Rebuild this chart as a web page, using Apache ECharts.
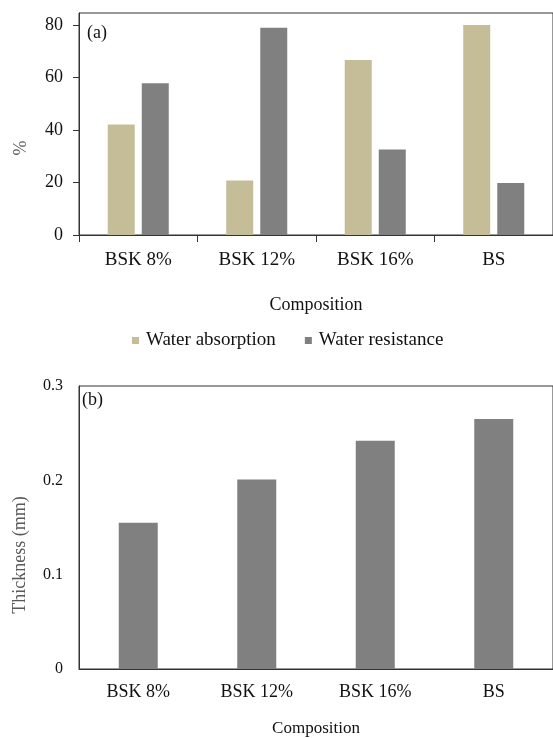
<!DOCTYPE html>
<html>
<head>
<meta charset="utf-8">
<script src="https://cdn.jsdelivr.net/npm/echarts@6/dist/echarts.min.js"></script>
<style>html,body{margin:0;padding:0;background:#fff}#c{width:553px;height:738px}</style>
</head>
<body>
<div id="c"></div>
<script>
const categories = ['BSK 8%', 'BSK 12%', 'BSK 16%', 'BS'];
const waterAbsorption = [42.2, 20.8, 66.8, 80.1];
const waterResistance = [57.9, 79.1, 32.6, 19.8];
const thickness = [0.155, 0.201, 0.242, 0.265];
const ticksA = [0, 20, 40, 60, 80];
const seriesNames = ['Water absorption', 'Water resistance'];

const FONT = 'Liberation Serif';
const chart = echarts.init(document.getElementById('c'), null, {renderer: 'canvas'});
chart.setOption({
  animation: false,
  backgroundColor: '#fff',
  textStyle: {fontFamily: FONT},
  grid: [
    {left: 79, top: 13, width: 478.4, height: 222, show: true, borderColor: '#333', borderWidth: 1, backgroundColor: 'transparent'},
    {left: 79, top: 386, width: 478.4, height: 283, show: true, borderColor: '#333', borderWidth: 1, backgroundColor: 'transparent'}
  ],
  legend: {
    data: seriesNames,
    left: 132, top: 331, padding: 0,
    icon: 'rect', itemWidth: 7, itemHeight: 7, itemGap: 29,
    textStyle: {fontFamily: FONT, fontSize: 19, color: '#111', lineHeight: 19, padding: [0, 0, 0, 2]}
  },
  graphic: [
    {type: 'text', left: 87, top: 24, style: {text: '(a)', font: '18px "Liberation Serif"', fill: '#111'}},
    {type: 'text', left: 82, top: 391, style: {text: '(b)', font: '18px "Liberation Serif"', fill: '#111'}}
  ],
  xAxis: [
    {type: 'category', gridIndex: 0, data: categories,
     axisLine: {lineStyle: {color: '#333'}},
     axisTick: {show: true, length: 7, lineStyle: {color: '#333'}},
     axisLabel: {fontFamily: FONT, fontSize: 19, color: '#111', margin: 16},
     name: 'Composition', nameLocation: 'middle', nameGap: 61,
     nameTextStyle: {fontFamily: FONT, fontSize: 18, color: '#111'}},
    {type: 'category', gridIndex: 1, data: categories,
     axisLine: {lineStyle: {color: '#333'}},
     axisTick: {show: false},
     axisLabel: {fontFamily: FONT, fontSize: 18, color: '#111', margin: 14},
     name: 'Composition', nameLocation: 'middle', nameGap: 51,
     nameTextStyle: {fontFamily: FONT, fontSize: 17, color: '#111'}}
  ],
  yAxis: [
    {type: 'value', gridIndex: 0, min: 0, max: 84.7,
     axisLine: {show: true, lineStyle: {color: '#333'}},
     axisTick: {show: true, length: 6, customValues: ticksA, lineStyle: {color: '#333'}},
     axisLabel: {fontFamily: FONT, fontSize: 18, color: '#111', margin: 16, customValues: ticksA},
     splitLine: {show: false},
     name: '%', nameLocation: 'middle', nameGap: 49,
     nameTextStyle: {fontFamily: FONT, fontSize: 18, color: '#595959', padding: [0, 48, 0, 0]}},
    {type: 'value', gridIndex: 1, min: 0, max: 0.3, interval: 0.1,
     axisLine: {show: true, lineStyle: {color: '#333'}},
     axisTick: {show: false},
     axisLabel: {fontFamily: FONT, fontSize: 16, color: '#111', margin: 16},
     splitLine: {show: false},
     name: 'Thickness (mm)', nameLocation: 'middle', nameGap: 50,
     nameTextStyle: {fontFamily: FONT, fontSize: 18, color: '#595959', padding: [0, 55, 0, 0]}}
  ],
  series: [
    {name: seriesNames[0], type: 'bar', xAxisIndex: 0, yAxisIndex: 0, data: waterAbsorption,
     barWidth: 27, barGap: '26%', itemStyle: {color: '#C4BD97'}},
    {name: seriesNames[1], type: 'bar', xAxisIndex: 0, yAxisIndex: 0, data: waterResistance,
     barWidth: 27, barGap: '26%', itemStyle: {color: '#808080'}},
    {name: 'Thickness', type: 'bar', xAxisIndex: 1, yAxisIndex: 1, data: thickness,
     barWidth: 39, itemStyle: {color: '#808080'}}
  ]
});
</script>
</body>
</html>
